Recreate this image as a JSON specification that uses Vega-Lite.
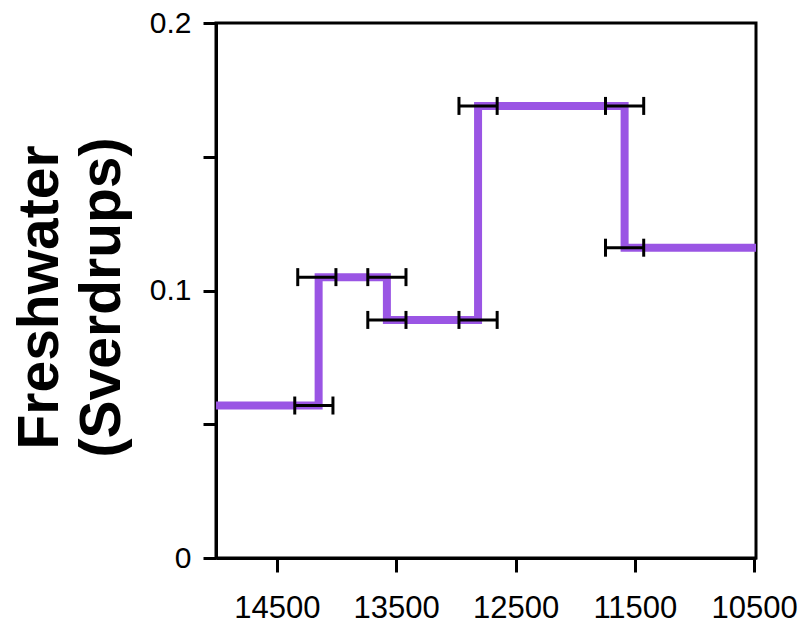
{
  "$schema": "https://vega.github.io/schema/vega-lite/v6.json",
  "autosize": "none",
  "width": 540,
  "height": 535,
  "padding": {"left": 216, "top": 23, "right": 47, "bottom": 78},
  "background": "white",
  "config": {
    "view": {"stroke": "black", "strokeWidth": 3},
    "font": "Liberation Sans"
  },
  "datasets": {
    "steps": [
      {"order": 1, "year": 15010, "flux": 0.057},
      {"order": 2, "year": 14150, "flux": 0.057},
      {"order": 3, "year": 14150, "flux": 0.105},
      {"order": 4, "year": 13578, "flux": 0.105},
      {"order": 5, "year": 13578, "flux": 0.089},
      {"order": 6, "year": 12814, "flux": 0.089},
      {"order": 7, "year": 12814, "flux": 0.169},
      {"order": 8, "year": 11586, "flux": 0.169},
      {"order": 9, "year": 11586, "flux": 0.116},
      {"order": 10, "year": 10485, "flux": 0.116}
    ],
    "errors": [
      {"center": 14190, "lo": 14030, "hi": 14350, "flux": 0.057},
      {"center": 14165, "lo": 14005, "hi": 14325, "flux": 0.105},
      {"center": 13578, "lo": 13418, "hi": 13738, "flux": 0.105},
      {"center": 13578, "lo": 13418, "hi": 13738, "flux": 0.089},
      {"center": 12814, "lo": 12654, "hi": 12974, "flux": 0.089},
      {"center": 12814, "lo": 12654, "hi": 12974, "flux": 0.169},
      {"center": 11586, "lo": 11426, "hi": 11746, "flux": 0.169},
      {"center": 11586, "lo": 11426, "hi": 11746, "flux": 0.116}
    ],
    "caps": [
      {"year": 14030, "flux": 0.057}, {"year": 14350, "flux": 0.057},
      {"year": 14005, "flux": 0.105}, {"year": 14325, "flux": 0.105},
      {"year": 13418, "flux": 0.105}, {"year": 13738, "flux": 0.105},
      {"year": 13418, "flux": 0.089}, {"year": 13738, "flux": 0.089},
      {"year": 12654, "flux": 0.089}, {"year": 12974, "flux": 0.089},
      {"year": 12654, "flux": 0.169}, {"year": 12974, "flux": 0.169},
      {"year": 11426, "flux": 0.169}, {"year": 11746, "flux": 0.169},
      {"year": 11426, "flux": 0.116}, {"year": 11746, "flux": 0.116}
    ]
  },
  "layer": [
    {
      "data": {"name": "steps"},
      "mark": {"type": "line", "color": "#9a55e4", "strokeWidth": 8, "strokeCap": "butt", "strokeJoin": "miter"},
      "encoding": {
        "x": {
          "field": "year", "type": "quantitative",
          "scale": {"domain": [10485, 15010], "reverse": true, "nice": false, "zero": false},
          "axis": {
            "title": null,
            "values": [14500, 13500, 12500, 11500, 10500],
            "format": "d",
            "grid": false,
            "domainColor": "black", "domainWidth": 3,
            "tickColor": "black", "tickWidth": 3, "tickSize": 14,
            "labelFont": "Liberation Sans", "labelFontSize": 31, "labelColor": "black",
            "labelPadding": 21, "labelFlush": false, "labelOverlap": false
          }
        },
        "y": {
          "field": "flux", "type": "quantitative",
          "scale": {"domain": [0, 0.2], "nice": false},
          "axis": {
            "title": ["Freshwater", "(Sverdrups)"],
            "titleFont": "Liberation Sans", "titleFontSize": 57, "titleFontWeight": "bold",
            "titleLineHeight": 62, "titleColor": "black", "titlePadding": 18, "titleY": 274,
            "values": [0, 0.05, 0.1, 0.15, 0.2],
            "labelExpr": "datum.value == 0 ? '0' : datum.value == 0.1 ? '0.1' : datum.value == 0.2 ? '0.2' : ''",
            "grid": false,
            "domainColor": "black", "domainWidth": 3,
            "tickColor": "black", "tickWidth": 3, "tickSize": 13,
            "labelFont": "Liberation Sans", "labelFontSize": 30, "labelColor": "black",
            "labelPadding": 12, "labelFlush": false, "labelOverlap": false
          }
        },
        "order": {"field": "order", "type": "quantitative"}
      }
    },
    {
      "data": {"name": "errors"},
      "mark": {"type": "rule", "color": "black", "strokeWidth": 3, "opacity": 1},
      "encoding": {
        "x": {"field": "lo", "type": "quantitative"},
        "x2": {"field": "hi"},
        "y": {"field": "flux", "type": "quantitative"}
      }
    },
    {
      "data": {"name": "caps"},
      "mark": {"type": "tick", "orient": "vertical", "color": "black", "size": 18, "thickness": 3, "opacity": 1},
      "encoding": {
        "x": {"field": "year", "type": "quantitative"},
        "y": {"field": "flux", "type": "quantitative"}
      }
    }
  ]
}
